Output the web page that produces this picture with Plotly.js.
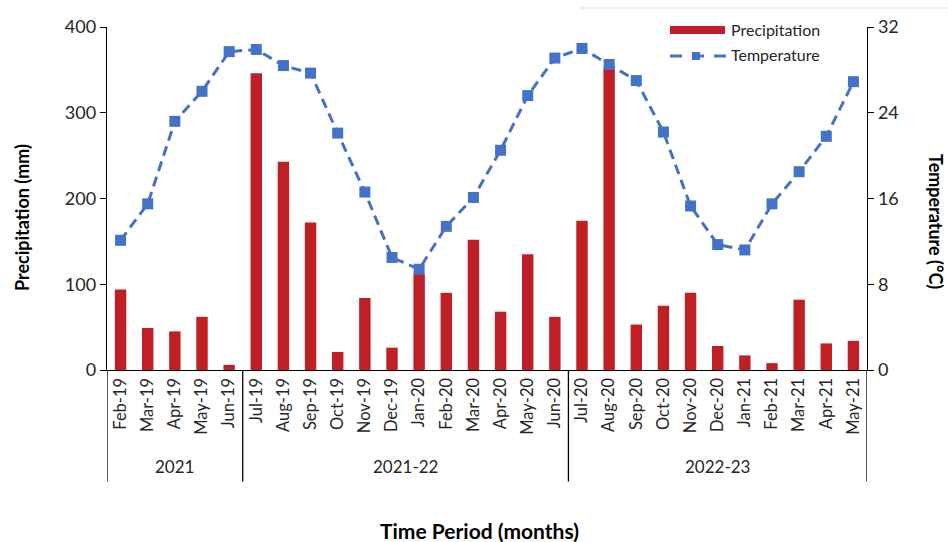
<!DOCTYPE html>
<html>
<head>
<meta charset="utf-8">
<script src="https://cdn.plot.ly/plotly-3.0.1.min.js"></script>
<style>html,body{margin:0;padding:0;background:#fff;}#chart{width:948px;height:542px;}</style>
</head>
<body>
<div id="chart"></div>
<script>
const months = ["Feb-19","Mar-19","Apr-19","May-19","Jun-19","Jul-19","Aug-19","Sep-19","Oct-19","Nov-19","Dec-19","Jan-20","Feb-20","Mar-20","Apr-20","May-20","Jun-20","Jul-20","Aug-20","Sep-20","Oct-20","Nov-20","Dec-20","Jan-21","Feb-21","Mar-21","Apr-21","May-21"];
const precipitation = [94,49,45,62,6,346,243,172,21,84,26,112,90,152,68,135,62,174,352,53,75,90,28,17,8,82,31,34];
const temperature = [12.1,15.5,23.2,26.0,29.7,29.9,28.4,27.7,22.1,16.6,10.5,9.4,13.4,16.1,20.5,25.6,29.1,30.0,28.5,27.0,22.2,15.3,11.7,11.2,15.5,18.5,21.8,26.9];
const groupLabels = ["2021","2021-22","2022-23"];
const groupStart = [0,5,17];
const groupEnd = [4,16,27];

const FONT = "Lato, 'Open Sans', sans-serif";
const RED = "#C01F26";
const BLUE = "#4472C4";

const traces = [
  {type:"bar", x:months, y:precipitation, name:"Precipitation", marker:{color:RED}, yaxis:"y", showlegend:false},
  {type:"scatter", mode:"lines+markers", x:months, y:temperature, name:"Temperature", yaxis:"y2",
   line:{color:BLUE, width:3, dash:"10px,6px"}, marker:{symbol:"square", size:11, color:BLUE}, showlegend:false}
];

const shapes = [];
const annotations = [];
// group separators below axis
const seps = [-0.5];
groupEnd.forEach(e => seps.push(e + 0.5));
seps.forEach(s => shapes.push({type:"line", xref:"x", yref:"paper", x0:s, x1:s, y0:0, y1:-0.325, line:{color:"#000", width:1.3}}));
groupLabels.forEach((g,i) => {
  annotations.push({xref:"x", yref:"paper", x:(groupStart[i]+groupEnd[i])/2, y:-0.28, text:g, showarrow:false,
    xanchor:"center", yanchor:"middle", font:{family:FONT, size:17, color:"#262626"}});
});
// faint top border line
shapes.push({type:"line", xref:"paper", yref:"paper", x0:(580-107)/760, x1:(948-107)/760, y0:(370-8)/343, y1:(370-8)/343, line:{color:"#efefef", width:2}});
// custom legend
shapes.push({type:"rect", xref:"paper", yref:"paper", x0:(670-107)/760, x1:(725-107)/760, y0:(370-34)/343, y1:(370-26)/343, fillcolor:RED, line:{width:0}});
shapes.push({type:"line", xref:"paper", yref:"paper", x0:(670-107)/760, x1:(727-107)/760, y0:(370-56)/343, y1:(370-56)/343, line:{color:BLUE, width:3, dash:"12px,10px"}});
shapes.push({type:"rect", xref:"paper", yref:"paper", x0:(692-107)/760, x1:(700-107)/760, y0:(370-60)/343, y1:(370-52)/343, fillcolor:BLUE, line:{width:0}});
annotations.push({xref:"paper", yref:"paper", x:(729-107)/760, y:(370-30)/343, text:"Precipitation", showarrow:false, xanchor:"left", yanchor:"middle", font:{family:FONT, size:16, color:"#262626"}});
annotations.push({xref:"paper", yref:"paper", x:(729-107)/760, y:(370-55)/343, text:"Temperature", showarrow:false, xanchor:"left", yanchor:"middle", font:{family:FONT, size:16, color:"#262626"}});
// axis titles
annotations.push({xref:"paper", yref:"paper", x:(22-107)/760, y:(370-218)/343, text:"<b>Precipitation (mm)</b>", textangle:-90, showarrow:false, xanchor:"center", yanchor:"middle", font:{family:FONT, size:18, color:"#000"}});
annotations.push({xref:"paper", yref:"paper", x:(936-107)/760, y:(370-221)/343, text:"<b>Temperature (°C)</b>", textangle:90, showarrow:false, xanchor:"center", yanchor:"middle", font:{family:FONT, size:18, color:"#000"}});
annotations.push({xref:"paper", yref:"paper", x:(479-107)/760, y:(370-530)/343, text:"<b>Time Period (months)</b>", showarrow:false, xanchor:"center", yanchor:"middle", font:{family:FONT, size:21, color:"#000"}});

const layout = {
  width:948, height:542,
  margin:{l:107, r:81, t:27, b:172},
  paper_bgcolor:"#fff", plot_bgcolor:"#fff",
  bargap:0.58,
  showlegend:false,
  font:{family:FONT, color:"#404040"},
  xaxis:{type:"category", range:[-0.5,27.5], tickangle:-90, showline:true, linecolor:"#000", linewidth:1.3,
    ticks:"", showgrid:false, zeroline:false, tickfont:{family:FONT, size:16.5, color:"#262626"}, automargin:false},
  yaxis:{range:[0,400], dtick:100, showline:true, linecolor:"#000", linewidth:1.3, ticks:"outside", ticklen:6, tickcolor:"#000",
    showgrid:false, zeroline:false, tickfont:{family:FONT, size:18, color:"#262626"}, automargin:false},
  yaxis2:{range:[0,32], dtick:8, overlaying:"y", side:"right", showline:true, linecolor:"#000", linewidth:1.3, ticks:"outside", ticklen:6, tickcolor:"#000",
    showgrid:false, zeroline:false, tickfont:{family:FONT, size:18, color:"#262626"}, automargin:false},
  shapes:shapes,
  annotations:annotations
};

Plotly.newPlot("chart", traces, layout, {displayModeBar:false, staticPlot:true});
</script>
</body>
</html>
